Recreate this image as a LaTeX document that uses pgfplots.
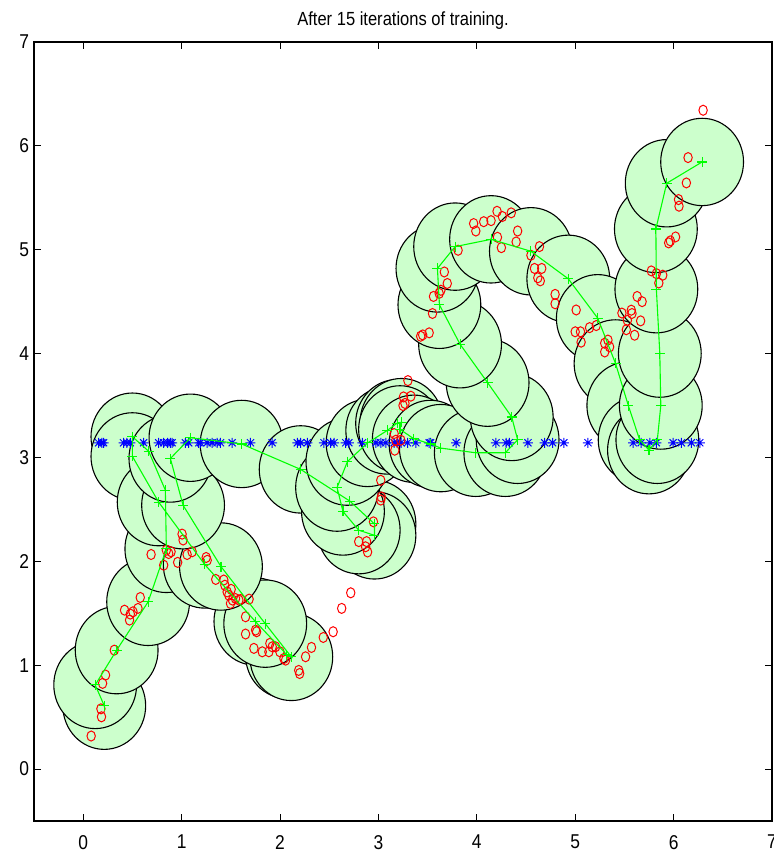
\documentclass[border=0pt]{standalone}
\usepackage{fontspec}
\setmainfont{Liberation Sans}[FakeStretch=0.87]
\usepackage{pgfplots}
\usepackage{pgfplotstable}
\pgfplotsset{compat=1.18}

\definecolor{nodefill}{RGB}{204,255,204}
\definecolor{netgreen}{RGB}{0,255,0}
\definecolor{datared}{RGB}{255,0,0}
\definecolor{refblue}{RGB}{0,0,255}

% eight-armed asterisk
\pgfdeclareplotmark{star8}{%
  \pgfpathmoveto{\pgfpoint{-\pgfplotmarksize}{0pt}}%
  \pgfpathlineto{\pgfpoint{\pgfplotmarksize}{0pt}}%
  \pgfpathmoveto{\pgfpoint{0pt}{-\pgfplotmarksize}}%
  \pgfpathlineto{\pgfpoint{0pt}{\pgfplotmarksize}}%
  \pgfpathmoveto{\pgfpoint{-.7071\pgfplotmarksize}{-.7071\pgfplotmarksize}}%
  \pgfpathlineto{\pgfpoint{.7071\pgfplotmarksize}{.7071\pgfplotmarksize}}%
  \pgfpathmoveto{\pgfpoint{-.7071\pgfplotmarksize}{.7071\pgfplotmarksize}}%
  \pgfpathlineto{\pgfpoint{.7071\pgfplotmarksize}{-.7071\pgfplotmarksize}}%
  \pgfusepathqstroke}

% nodes of the elastic chain, in order
\pgfplotstableread{
x y
0.214 0.61
0.122 0.81
0.34 1.145
0.66 1.61
0.845 2.12
0.835 2.685
0.665 3.06
0.50 3.20
0.50 3.01
0.767 2.57
1.235 1.97
1.75 1.42
2.07 1.10
2.115 1.08
1.85 1.40
1.40 1.95
1.015 2.54
0.886 2.99
1.09 3.19
1.61 3.13
2.21 2.885
2.71 2.58
2.96 2.36
2.96 2.25
2.80 2.30
2.64 2.48
2.58 2.71
2.685 2.96
2.89 3.14
3.09 3.26
3.19 3.33
3.235 3.34
3.22 3.27
3.36 3.18
3.53 3.13
3.635 3.09
3.99 3.045
4.29 3.045
4.415 3.17
4.355 3.39
4.11 3.72
3.83 4.09
3.62 4.47
3.60 4.82
3.78 5.03
4.145 5.10
4.55 4.985
4.93 4.72
5.23 4.34
5.41 3.905
5.54 3.50
5.655 3.17
5.75 3.07
5.835 3.17
5.87 3.50
5.86 4.00
5.825 4.62
5.82 5.20
5.93 5.64
6.29 5.845
}\chain

% training samples
\pgfplotstableread{
x y
0.081 0.318
0.18 0.58
0.186 0.503
0.227 0.905
0.197 0.825
0.316 1.145
0.42 1.53
0.471 1.434
0.479 1.492
0.506 1.514
0.557 1.547
0.58 1.652
0.69 2.066
0.818 1.963
0.845 2.108
0.893 2.092
0.869 2.075
0.96 1.99
1.005 2.262
1.015 2.205
1.056 2.066
1.107 2.092
1.25 2.037
1.26 2.01
1.347 1.826
1.429 1.82
1.44 1.77
1.463 1.706
1.48 1.674
1.504 1.73
1.517 1.627
1.497 1.595
1.548 1.642
1.582 1.627
1.6 1.633
1.686 1.636
1.65 1.466
1.65 1.30
1.752 1.338
1.762 1.322
1.735 1.162
1.82 1.129
1.887 1.129
1.897 1.21
1.921 1.177
1.955 1.177
1.999 1.129
2.04 1.065
2.057 1.049
2.19 0.95
2.20 0.92
2.26 1.081
2.32 1.171
2.44 1.267
2.54 1.322
2.627 1.547
2.719 1.697
3.30 3.74
3.33 3.59
3.255 3.583
3.27 3.52
3.25 3.50
3.16 3.23
3.177 3.166
3.167 3.07
3.228 3.166
3.024 2.78
3.03 2.62
3.024 2.59
2.95 2.38
2.80 2.19
2.88 2.19
2.87 2.14
2.89 2.09
3.968 5.252
3.99 5.18
4.07 5.27
4.145 5.28
4.206 5.37
4.26 5.32
4.35 5.355
4.21 5.12
4.25 5.02
4.415 5.18
4.40 5.075
4.55 4.947
4.637 5.03
4.586 4.82
4.66 4.82
4.62 4.73
4.645 4.70
3.81 4.995
3.67 4.786
3.70 4.675
3.635 4.61
3.618 4.58
3.56 4.55
3.55 4.386
3.516 4.20
3.43 4.167
3.45 4.18
4.796 4.57
4.796 4.48
5.01 4.42
5.00 4.21
5.054 4.21
5.06 4.11
5.146 4.25
5.214 4.27
6.30 6.343
6.147 5.887
6.13 5.643
6.05 5.483
6.055 5.419
6.02 5.123
5.967 5.085
5.95 5.066
5.774 4.796
5.825 4.77
5.89 4.755
5.85 4.68
5.63 4.55
5.68 4.50
5.475 4.39
5.57 4.418
5.577 4.386
5.53 4.32
5.665 4.315
5.52 4.23
5.604 4.177
5.30 4.10
5.333 4.13
5.35 4.065
5.30 4.016
}\samples

% points on the line y = pi
\pgfplotstableread{
x y
0.156 3.1416
0.19 3.1416
0.207 3.1416
0.41 3.1416
0.445 3.1416
0.479 3.1416
0.614 3.1416
0.767 3.1416
0.818 3.1416
0.858 3.1416
0.886 3.1416
0.903 3.1416
1.039 3.1416
1.072 3.1416
1.174 3.1416
1.191 3.1416
1.26 3.1416
1.31 3.1416
1.36 3.1416
1.395 3.1416
1.514 3.1416
1.70 3.1416
1.92 3.1416
2.176 3.1416
2.21 3.1416
2.278 3.1416
2.447 3.1416
2.515 3.1416
2.549 3.1416
2.668 3.1416
2.70 3.1416
2.838 3.1416
2.974 3.1416
3.024 3.1416
3.075 3.1416
3.16 3.1416
3.19 3.1416
3.23 3.1416
3.296 3.1416
3.38 3.1416
3.516 3.1416
3.53 3.1416
3.79 3.1416
4.195 3.1416
4.297 3.1416
4.33 3.1416
4.52 3.1416
4.69 3.1416
4.77 3.1416
4.885 3.1416
5.13 3.1416
5.59 3.1416
5.67 3.1416
5.76 3.1416
5.825 3.1416
5.995 3.1416
6.08 3.1416
6.18 3.1416
6.266 3.1416
}\testline

\begin{document}
\begin{tikzpicture}
\begin{axis}[
  set layers,
  mark layer=like plot,
  scale only axis,
  width=369pt, height=389.5pt,
  xmin=-0.5, xmax=7, ymin=-0.5, ymax=7,
  xtick={0,1,...,7}, ytick={0,1,...,7},
  tick align=inside,
  major tick length=3.5pt,
  axis line style={line width=0.6pt},
  tick style={black, line width=0.4pt},
  ticklabel style={font=\fontsize{10}{12}\selectfont},
  xticklabel style={yshift=-3.5pt},
  yticklabel style={xshift=1pt},
  /pgf/number format/assume math mode=true,
  title={After 15 iterations of training.},
  title style={at={(0.5,1)}, anchor=base, yshift=2pt,
               font=\fontsize{9.5}{11}\selectfont},
  clip=false,
]
% neighbourhood discs around each node
\addplot[on layer=axis background, only marks, mark=*, mark size=20.7pt,
  mark options={yscale=1.055, fill=nodefill, draw=black, line width=0.55pt}]
  table[x=x, y=y] {\chain};
% points on y = pi
\addplot[only marks, mark=star8, mark size=2.5pt,
  mark options={draw=refblue, line width=0.5pt}]
  table[x=x, y=y] {\testline};
% training samples
\addplot[only marks, mark=o, mark size=2.1pt,
  mark options={draw=datared, line width=0.5pt, yscale=1.2}]
  table[x=x, y=y] {\samples};
% the chain itself
\addplot[netgreen, line width=0.55pt, mark=+, mark size=2.5pt,
  mark options={line width=0.55pt}]
  table[x=x, y=y] {\chain};
\end{axis}
\pgfresetboundingbox
\path (-17pt,-15.5pt) rectangle (370pt,410.5pt);
\end{tikzpicture}
\end{document}
